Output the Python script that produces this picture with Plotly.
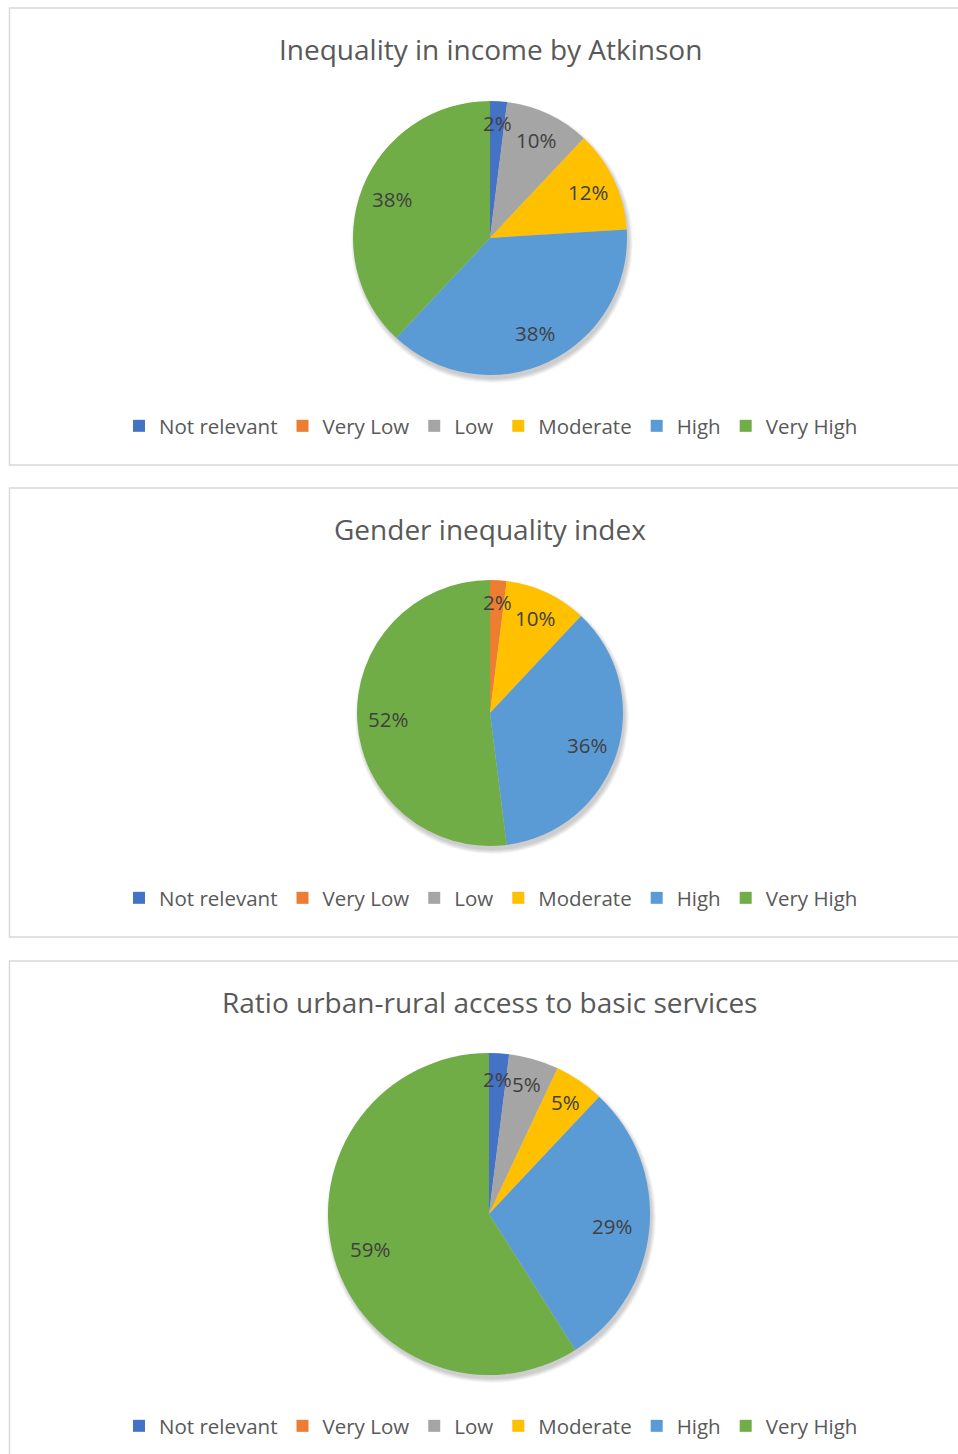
import math
import plotly.graph_objects as go

W, H = 958, 1454

categories = ["Not relevant", "Very Low", "Low", "Moderate", "High", "Very High"]
colors = ["#4472C4", "#ED7D31", "#A5A5A5", "#FFC000", "#5B9BD5", "#70AD47"]

titles = [
    "Inequality in income by Atkinson",
    "Gender inequality index",
    "Ratio urban-rural access to basic services",
]

atkinson = [2, 0, 10, 12, 38, 38]
gender_index = [0, 2, 0, 10, 36, 52]
urban_rural = [2, 0, 5, 5, 29, 59]

series = [atkinson, gender_index, urban_rural]

# panel geometry in pixels: frame top/bottom, title y, pie centre, radius, legend y
panels = [
    dict(top=8, bottom=465, title_y=49, cx=490, cy=238, r=137, leg_y=426),
    dict(top=488, bottom=937, title_y=529, cx=490, cy=713, r=133, leg_y=898),
    dict(top=961, bottom=1470, title_y=1002, cx=489, cy=1214, r=161, leg_y=1426),
]

FONT = "Open Sans"
TEXT_GREY = "#595959"
LABEL_GREY = "#404040"


def px(x):
    return x / W


def py(y):
    return 1 - y / H


def label_radius(share):
    # thin slices push their label further out towards the rim
    if share < 0.06:
        return 0.84
    if share < 0.25:
        return 0.79
    return 0.77


fig = go.Figure()
shapes = []
annotations = []
legend_names = ["legend", "legend2", "legend3"]
legends = {}

for i, (vals, p, title) in enumerate(zip(series, panels, titles)):
    cx, cy, r = p["cx"], p["cy"], p["r"]

    # chart frame
    shapes.append(dict(type="rect", xref="paper", yref="paper",
                       x0=px(9.5), x1=px(W + 20), y0=py(p["bottom"]), y1=py(p["top"]),
                       line=dict(color="#D9D9D9", width=1.5), fillcolor="rgba(0,0,0,0)",
                       layer="below"))

    # soft drop shadow under the pie
    for k, op in enumerate([0.045, 0.045, 0.045, 0.045, 0.03]):
        rr = r + k
        ox, oy = 2, 4
        shapes.append(dict(type="circle", xref="paper", yref="paper",
                           x0=px(cx + ox - rr), x1=px(cx + ox + rr),
                           y0=py(cy + oy + rr), y1=py(cy + oy - rr),
                           line=dict(width=0), fillcolor="rgba(0,0,0,1)",
                           opacity=op, layer="below"))

    # pie legends merge identical labels across traces, so each chart gets
    # its own (invisible) zero-width suffix to keep a separate legend
    labels = [c + "\u200b" * i for c in categories]

    fig.add_trace(go.Pie(
        labels=labels,
        values=vals,
        marker=dict(colors=colors, line=dict(width=0)),
        sort=False,
        direction="clockwise",
        rotation=0,
        textinfo="none",
        hoverinfo="label+percent",
        domain=dict(x=[px(cx - r), px(cx + r)], y=[py(cy + r), py(cy - r)]),
        legend=legend_names[i],
        showlegend=True,
    ))

    # title
    annotations.append(dict(text=title, x=px(cx), y=py(p["title_y"]),
                            xref="paper", yref="paper", showarrow=False,
                            xanchor="center", yanchor="middle",
                            font=dict(family=FONT, size=28, color=TEXT_GREY)))

    # percentage labels inside each slice
    total = sum(vals)
    cum = 0.0
    for v in vals:
        if v <= 0:
            continue
        share = v / total
        mid = cum + share / 2
        cum += share
        theta = 2 * math.pi * mid
        frac = label_radius(share)
        lx = cx + math.sin(theta) * frac * r
        ly = cy - math.cos(theta) * frac * r
        annotations.append(dict(text=f"{round(share * 100)}%", x=px(lx), y=py(ly),
                                xref="paper", yref="paper", showarrow=False,
                                xanchor="center", yanchor="middle",
                                font=dict(family=FONT, size=20.5, color=LABEL_GREY)))

    legends[legend_names[i]] = dict(
        orientation="h", x=px(491), y=py(p["leg_y"]),
        xanchor="center", yanchor="middle",
        font=dict(family=FONT, size=20.5, color=TEXT_GREY),
        bgcolor="rgba(0,0,0,0)", itemclick=False, itemdoubleclick=False,
    )

fig.update_layout(
    width=W, height=H,
    margin=dict(l=0, r=0, t=0, b=0),
    paper_bgcolor="white",
    plot_bgcolor="white",
    shapes=shapes,
    annotations=annotations,
    **legends,
)

fig.write_html("out.html")
